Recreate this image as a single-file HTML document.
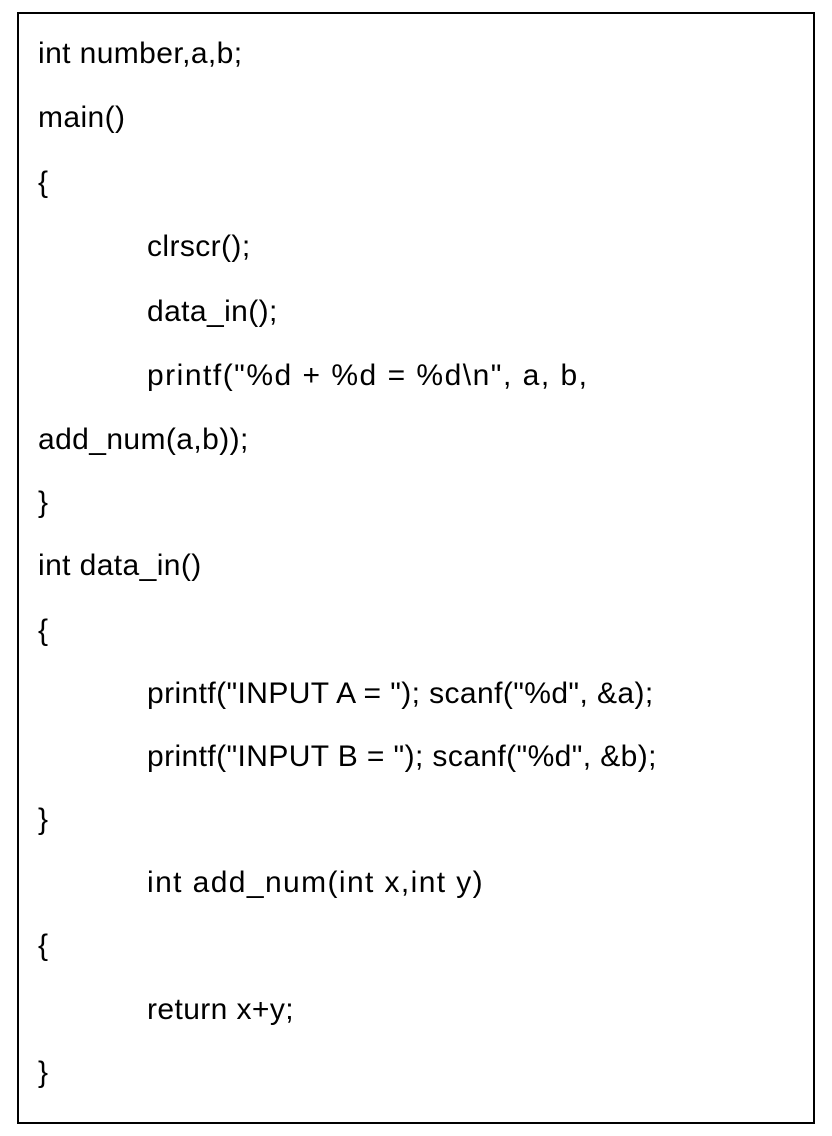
<!DOCTYPE html>
<html><head><meta charset="utf-8"><style>
html,body{margin:0;padding:0;background:#fff;width:832px;height:1136px;overflow:hidden}
.box{position:absolute;left:17px;top:12px;width:798px;height:1112px;border:2px solid #000;box-sizing:border-box}
.l{position:absolute;font-family:"Liberation Sans",sans-serif;font-size:30px;line-height:34px;color:#000;white-space:pre;letter-spacing:0.4px}
</style></head><body>
<div class="box"></div>
<div class="l" style="left:38px;top:37px">int number,a,b;</div>
<div class="l" style="left:38px;top:101px">main()</div>
<div class="l" style="left:38px;top:166px">{</div>
<div class="l" style="left:147px;top:230px">clrscr();</div>
<div class="l" style="left:147px;top:295px">data_in();</div>
<div class="l" style="left:147px;top:359px;letter-spacing:1.5px">printf("%d + %d = %d\n", a, b,</div>
<div class="l" style="left:38px;top:423px">add_num(a,b));</div>
<div class="l" style="left:38px;top:486px">}</div>
<div class="l" style="left:38px;top:549px">int data_in()</div>
<div class="l" style="left:38px;top:614px">{</div>
<div class="l" style="left:147px;top:677px">printf("INPUT A = "); scanf("%d", &amp;a);</div>
<div class="l" style="left:147px;top:740px">printf("INPUT B = "); scanf("%d", &amp;b);</div>
<div class="l" style="left:38px;top:803px">}</div>
<div class="l" style="left:147px;top:866px;letter-spacing:1.4px">int add_num(int x,int y)</div>
<div class="l" style="left:38px;top:929px">{</div>
<div class="l" style="left:147px;top:993px">return x+y;</div>
<div class="l" style="left:38px;top:1056px">}</div>
</body></html>
